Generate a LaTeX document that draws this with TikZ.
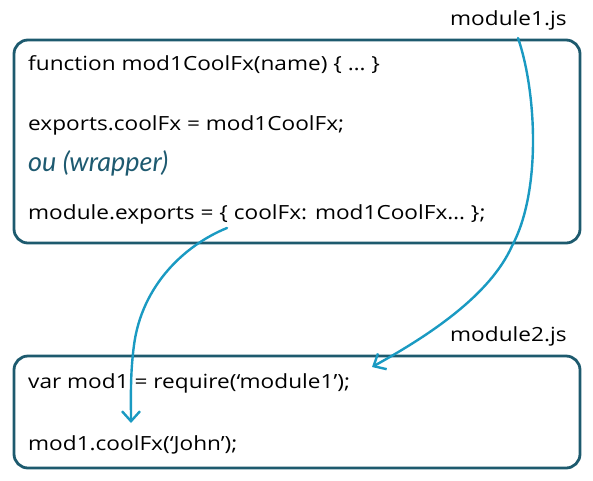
\documentclass[tikz,border=0pt]{standalone}
\usepackage{fontspec}
\setmainfont{Open Sans}
\newfontfamily\handfont[FakeStretch=1.16]{Open Sans}
\newfontfamily\wrapfont{Lato}
\usetikzlibrary{arrows.meta}
\definecolor{boxteal}{HTML}{1D5A6E}
\definecolor{arrowblue}{HTML}{1A9AC2}
\definecolor{wraptext}{HTML}{1E5A70}
\tikzset{
  codebox/.style={draw=boxteal, line width=2.8pt, rounded corners=14pt, inner sep=0pt, fill=white},
  code/.style={anchor=west, inner sep=0pt, font=\handfont\fontsize{19.5}{22}\selectfont, text=black},
  fname/.style={anchor=west, inner sep=0pt, font=\handfont\fontsize{19.5}{22}\selectfont, text=black},
  wrap/.style={anchor=west, inner sep=0pt, font=\wrapfont\itshape\fontsize{27}{30}\selectfont, text=wraptext},
  flow/.style={draw=arrowblue, line width=2.4pt, line cap=round,
    -{Straight Barb[length=10pt,width=18pt,line width=2.4pt]}},
}
\begin{document}
\begin{tikzpicture}[x=1pt,y=-1pt]
\useasboundingbox (0,0) rectangle (593,480);
% boxes
\node[codebox, minimum width=566pt, minimum height=203pt] (box1) at (297,141.5) {};
\node[codebox, minimum width=566pt, minimum height=112pt] (box2) at (297,412) {};
% file names
\node[fname] (m1) at (450,20) {module1.js};
\node[fname] (m2) at (450,336) {module2.js};
% code lines in module1
\node[code] (l1) at (28,65) {function mod1CoolFx(name) \{ … \}};
\node[code] (l2) at (28,125) {exports.coolFx = mod1CoolFx;};
\node[wrap] (l3) at (28,163) {ou (wrapper)};
\node[code] (l4) at (28,214) {module.exports = \{ coolFx: mod1CoolFx… \};};
% code lines in module2
\node[code] (r1) at (28,383) {var mod1 = require(‘module1’);};
\node[code] (r2) at (28,445) {mod1.coolFx(‘John’);};
% connector anchors
\coordinate (s1) at (518,38);
\coordinate (t1) at (372,367);
\coordinate (s2) at (227,228);
\coordinate (t2) at (131,423);
% connectors
\draw[flow] (s1) .. controls (536,90) and (542,190) .. (512,246)
  .. controls (490,295) and (430,335) .. (t1);
\draw[flow] (s2) .. controls (185,245) and (142,285) .. (134,345)
  .. controls (130,375) and (131,400) .. (t2);
\end{tikzpicture}
\end{document}
